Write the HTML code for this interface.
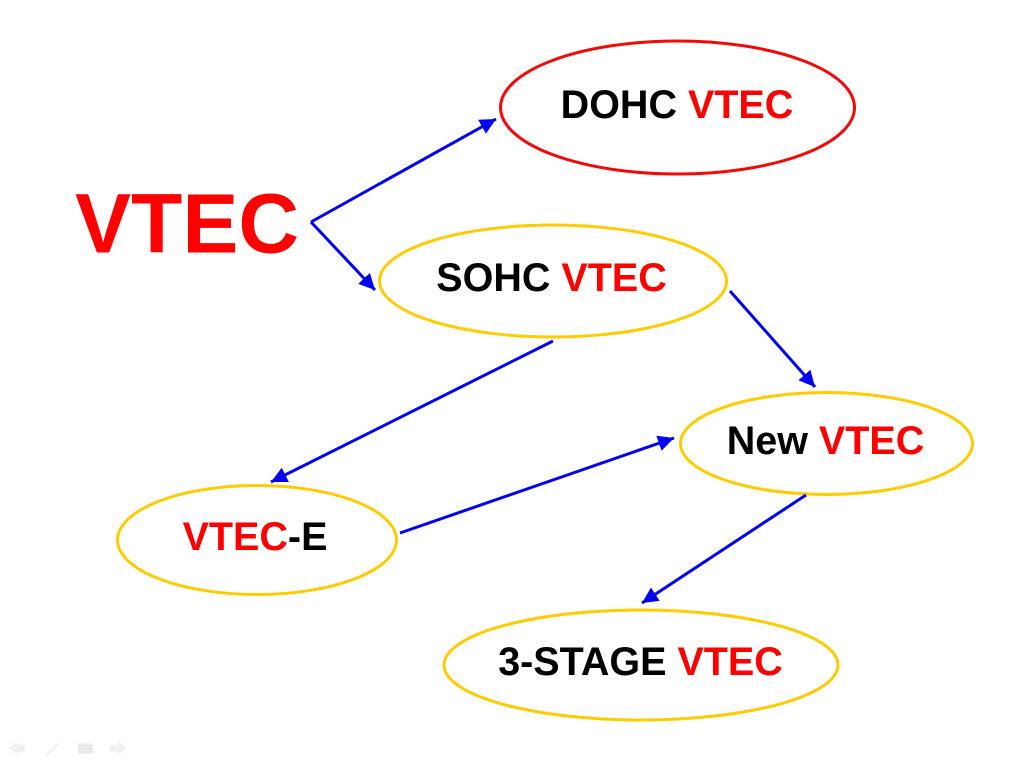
<!DOCTYPE html>
<html>
<head>
<meta charset="utf-8">
<style>
html,body{margin:0;padding:0;background:#fff;width:1024px;height:768px;overflow:hidden}
svg{display:block}
text{font-family:"Liberation Sans",Arial,sans-serif;font-weight:bold;text-anchor:middle}
.r{fill:#f00}
</style>
</head>
<body>
<svg width="1024" height="768" viewBox="0 0 1024 768" xmlns="http://www.w3.org/2000/svg">
<defs>
<marker id="a" markerUnits="userSpaceOnUse" markerWidth="18" markerHeight="16" refX="16" refY="8" orient="auto">
<path d="M0 0L16 8L0 16Z" fill="#0000f5"/>
</marker>
</defs>
<g fill="none" stroke-width="3">
<ellipse cx="677.500" cy="107.500" rx="177" ry="66.500" stroke="#f00a0a"/>
<ellipse cx="553" cy="281" rx="173.500" ry="56" stroke="#ffcc00"/>
<ellipse cx="826.500" cy="443.500" rx="146" ry="51" stroke="#ffcc00"/>
<ellipse cx="257" cy="540" rx="139.500" ry="54.500" stroke="#ffcc00"/>
<ellipse cx="641" cy="665" rx="197" ry="55" stroke="#ffcc00"/>
</g>
<g stroke="#0000f5" stroke-width="3" fill="none">
<path d="M311 222L496 119" marker-end="url(#a)"/>
<path d="M311 222L375 290" marker-end="url(#a)"/>
<path d="M730 291L815 387" marker-end="url(#a)"/>
<path d="M553 341L271 482" marker-end="url(#a)"/>
<path d="M400 533L674 438" marker-end="url(#a)"/>
<path d="M806 495L642 603" marker-end="url(#a)"/>
</g>
<text x="187" y="252.500" font-size="84" class="r">VTEC</text>
<text x="677" y="118" font-size="39.500">DOHC <tspan class="r">VTEC</tspan></text>
<text x="551.500" y="291" font-size="39.500">SOHC <tspan class="r">VTEC</tspan></text>
<text x="825.500" y="454" font-size="39.500">New <tspan class="r">VTEC</tspan></text>
<text x="255" y="550" font-size="39.500"><tspan class="r">VTEC</tspan>-E</text>
<text x="640.500" y="675" font-size="39.500">3-STAGE <tspan class="r">VTEC</tspan></text>
<g fill="#f0f0f0" stroke="#f7f7f7">
<path d="M9 748L17 741V745H25V752H17V755Z"/>
<path d="M45 755L57 743L59 744L47 756Z"/>
<rect x="78" y="743" width="15" height="11"/>
<path d="M126 748L118 741V745H110V752H118V755Z"/>
</g>
<g stroke="#dcdcdc" stroke-width="1">
<path d="M78 746H93M78 749H93M78 752H93"/>
</g>
</svg>
</body>
</html>
